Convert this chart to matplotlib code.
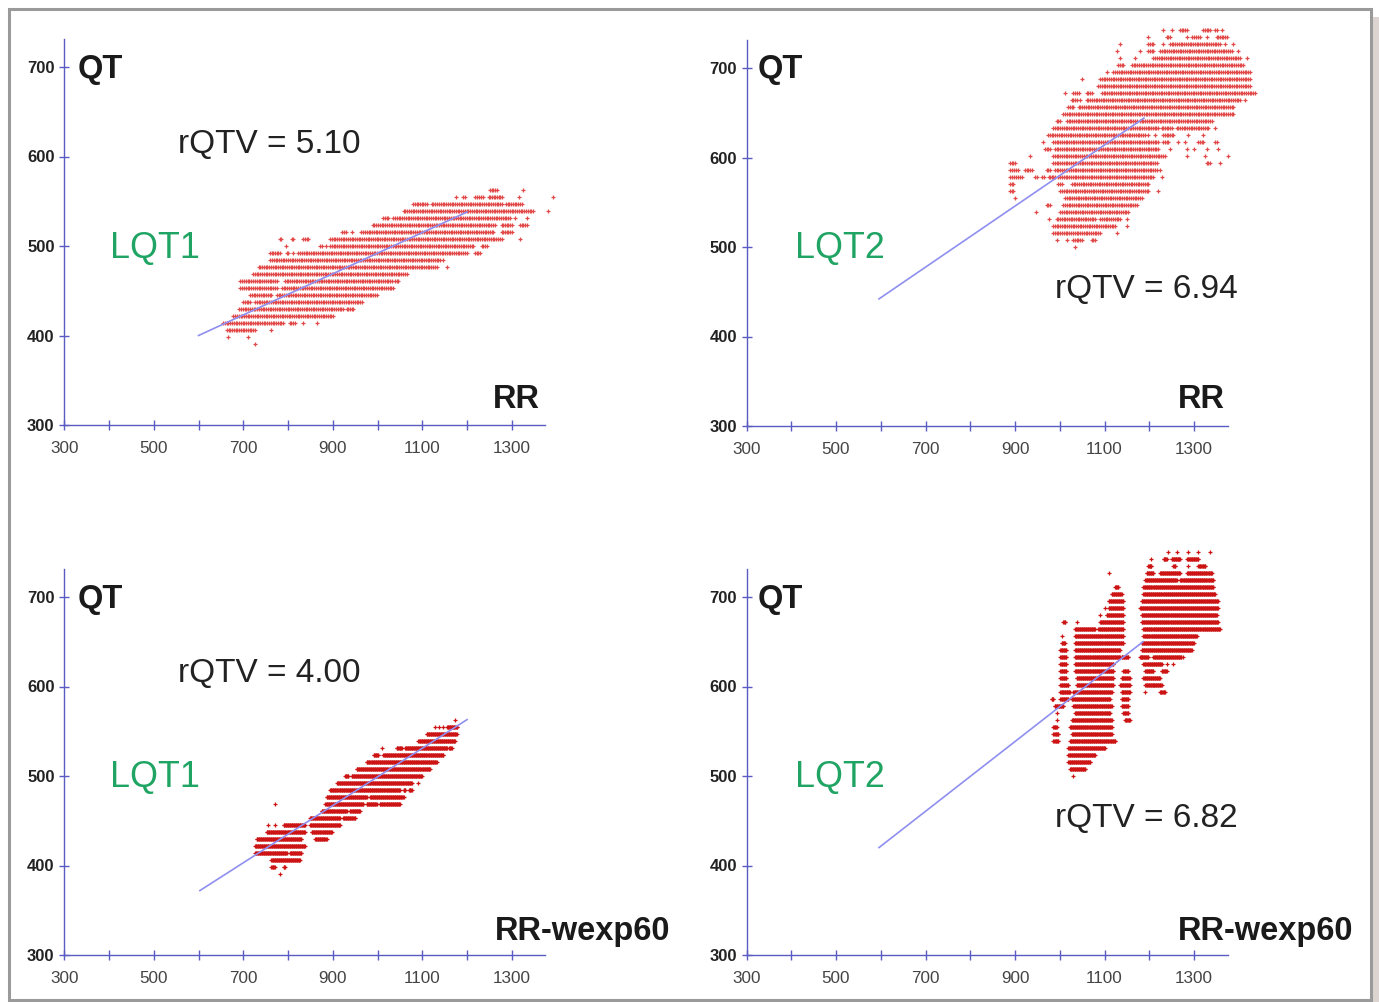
import numpy as np
import matplotlib
matplotlib.use("Agg")
import matplotlib.pyplot as plt
from matplotlib.patches import Rectangle

plt.rcParams['font.family'] = ['Liberation Sans', 'DejaVu Sans']

# ---------------- data ----------------
# QT rows (ms) and, per row, runs of RR values (ms) as (first, last) pairs
tl_qt = [562.5, 554.7, 546.9, 539.1, 531.2, 523.4, 515.6, 507.8, 500.0, 492.2, 484.4, 476.6,
         468.8, 460.9, 453.1, 445.3, 437.5, 429.7, 421.9, 414.1, 406.2, 398.4, 390.6]
tl_runs = [
    [(1251, 1266), (1326, 1326)],
    [(1175, 1175), (1190, 1195), (1218, 1236), (1248, 1278), (1315, 1315), (1393, 1393)],
    [(1080, 1110), (1121, 1278), (1287, 1322)],
    [(1058, 1348), (1382, 1382)],
    [(1013, 1024), (1035, 1296), (1307, 1307), (1333, 1333)],
    [(989, 1262), (1277, 1300), (1318, 1333)],
    [(920, 930), (944, 946), (964, 1259), (1277, 1300)],
    [(782, 785), (808, 812), (834, 845), (894, 1277), (1318, 1318)],
    [(795, 795), (871, 875), (884, 886), (894, 1214), (1233, 1244)],
    [(760, 782), (797, 800), (810, 812), (823, 1199), (1218, 1229)],
    [(760, 1140), (1147, 1147)],
    [(734, 1132), (1155, 1155)],
    [(722, 1065)],
    [(693, 775), (793, 1032), (1040, 1046)],
    [(693, 775), (786, 1035)],
    [(715, 763), (775, 998)],
    [(700, 715), (726, 965)],
    [(691, 923), (931, 946)],
    [(678, 901)],
    [(655, 789), (804, 815), (834, 834), (864, 864)],
    [(663, 726), (763, 763)],
    [(666, 666), (711, 711)],
    [(726, 726)],
]

tr_qt = [742.2, 734.4, 726.6, 718.8, 710.9, 703.1, 695.3, 687.5, 679.7, 671.9, 664.1, 656.2,
         648.4, 640.6, 632.8, 625.0, 617.2, 609.4, 601.6, 593.8, 585.9, 578.1, 570.3, 562.5,
         554.7, 546.9, 539.1, 531.2, 523.4, 515.6, 507.8, 500.0]
tr_runs = [
    [(1231, 1231), (1250, 1250), (1269, 1284), (1321, 1336), (1347, 1351), (1362, 1362)],
    [(1198, 1198), (1239, 1246), (1284, 1284), (1295, 1313), (1328, 1328), (1351, 1373)],
    [(1135, 1135), (1198, 1209), (1231, 1231), (1246, 1358), (1369, 1369), (1388, 1388)],
    [(1127, 1127), (1179, 1179), (1198, 1209), (1224, 1384), (1399, 1399)],
    [(1135, 1135), (1168, 1168), (1209, 1403), (1418, 1418)],
    [(1131, 1142), (1161, 1410)],
    [(1105, 1105), (1120, 1425)],
    [(1049, 1049), (1090, 1425)],
    [(1086, 1425)],
    [(1012, 1012), (1030, 1042), (1060, 1071), (1094, 1436)],
    [(1027, 1038), (1045, 1045), (1060, 1403), (1414, 1414)],
    [(1019, 1030), (1042, 1388)],
    [(1008, 1388)],
    [(993, 1001), (1016, 1172), (1179, 1340)],
    [(985, 1220), (1228, 1250), (1261, 1332), (1347, 1347)],
    [(974, 1190), (1198, 1198), (1213, 1213), (1231, 1254), (1287, 1287), (1321, 1321)],
    [(963, 963), (985, 1220), (1231, 1243), (1265, 1265), (1280, 1280), (1310, 1321), (1347, 1351)],
    [(967, 978), (989, 1220), (1246, 1246), (1284, 1284), (1299, 1299), (1328, 1328), (1354, 1354)],
    [(933, 933), (985, 1235), (1284, 1284), (1325, 1325), (1377, 1377)],
    [(889, 900), (985, 1217), (1328, 1336), (1358, 1358)],
    [(889, 907), (922, 937), (971, 978), (989, 1217), (1224, 1224)],
    [(889, 915), (945, 950), (960, 965), (975, 989), (997, 1209), (1228, 1228)],
    [(889, 896), (997, 1004), (1027, 1198)],
    [(889, 896), (1001, 1198), (1220, 1220)],
    [(900, 900), (1012, 1183)],
    [(971, 978), (1008, 1172)],
    [(948, 948), (1001, 1153)],
    [(975, 975), (993, 1079), (1090, 1135), (1150, 1150)],
    [(985, 1124), (1150, 1150)],
    [(985, 1090), (1127, 1127)],
    [(993, 993), (1016, 1016), (1030, 1049), (1071, 1079)],
    [(1034, 1034)],
]

bl_qt = [562.5, 554.7, 546.9, 539.1, 531.2, 523.4, 515.6, 507.8, 500.0, 492.2, 484.4, 476.6,
         468.8, 460.9, 453.1, 445.3, 437.5, 429.7, 421.9, 414.1, 406.2, 398.4, 390.6]
bl_runs = [
    [(1173, 1173)],
    [(1128, 1128), (1137, 1137), (1146, 1146), (1155, 1178)],
    [(1110, 1177)],
    [(1091, 1173)],
    [(1009, 1009), (1043, 1054), (1061, 1155), (1160, 1166)],
    [(991, 1002), (1013, 1147)],
    [(976, 1132)],
    [(953, 1117)],
    [(927, 935), (942, 1099)],
    [(909, 1076), (1091, 1091)],
    [(894, 1050), (1058, 1062), (1070, 1076)],
    [(886, 976), (983, 1058)],
    [(771, 771), (883, 968), (976, 998), (1005, 1050)],
    [(875, 931), (938, 961)],
    [(849, 916), (923, 950)],
    [(756, 756), (771, 771), (790, 838), (849, 916)],
    [(752, 838), (853, 898)],
    [(730, 830), (860, 886)],
    [(726, 838)],
    [(726, 797), (804, 830)],
    [(763, 827)],
    [(763, 770), (790, 793)],
    [(782, 782)],
]

br_qt = [750.0, 742.2, 734.4, 726.6, 718.8, 710.9, 703.1, 695.3, 687.5, 679.7, 671.9, 664.1,
         656.2, 648.4, 640.6, 632.8, 625.0, 617.2, 609.4, 601.6, 593.8, 585.9, 578.1, 570.3,
         562.5, 554.7, 546.9, 539.1, 531.2, 523.4, 515.6, 507.8, 500.0]
br_runs = [
    [(1243, 1243), (1261, 1261), (1287, 1287), (1310, 1310), (1336, 1336)],
    [(1205, 1205), (1232, 1239), (1250, 1269), (1284, 1310)],
    [(1198, 1205), (1254, 1258), (1287, 1287), (1310, 1325)],
    [(1109, 1109), (1194, 1209), (1224, 1269), (1284, 1340)],
    [(1191, 1261), (1269, 1343)],
    [(1124, 1131), (1187, 1343)],
    [(1116, 1138), (1187, 1347)],
    [(1109, 1142), (1183, 1354)],
    [(1101, 1101), (1109, 1142), (1179, 1354)],
    [(1090, 1090), (1105, 1142), (1183, 1351)],
    [(1008, 1012), (1038, 1038), (1090, 1142), (1183, 1354)],
    [(1034, 1079), (1086, 1142), (1187, 1358)],
    [(1004, 1004), (1034, 1142), (1187, 1306)],
    [(1004, 1012), (1034, 1142), (1183, 1299)],
    [(1001, 1015), (1034, 1135), (1183, 1295)],
    [(1001, 1015), (1034, 1135), (1138, 1153), (1179, 1198), (1209, 1272), (1276, 1276)],
    [(1001, 1015), (1034, 1120), (1187, 1228), (1239, 1239), (1254, 1254)],
    [(1001, 1015), (1034, 1120), (1142, 1153), (1191, 1209), (1228, 1239)],
    [(1001, 1015), (1038, 1120), (1138, 1157), (1187, 1224)],
    [(1001, 1019), (1038, 1120), (1135, 1157), (1191, 1228)],
    [(1001, 1023), (1030, 1116), (1138, 1157), (1191, 1191), (1224, 1235)],
    [(982, 986), (1001, 1019), (1027, 1112), (1138, 1153)],
    [(989, 1008), (1030, 1116), (1138, 1153)],
    [(993, 993), (1034, 1112), (1142, 1153)],
    [(993, 993), (1027, 1116), (1146, 1157)],
    [(986, 993), (1023, 1116)],
    [(986, 997), (1027, 1116)],
    [(986, 997), (1023, 1124)],
    [(1019, 1101)],
    [(1019, 1079)],
    [(1019, 1068)],
    [(1023, 1057)],
    [(1030, 1030)],
]

# regression lines (RR endpoints, QT endpoints)
tl_fit_rr, tl_fit_qt = [600, 1200], [400, 538]
tr_fit_rr, tr_fit_qt = [596, 1188], [442, 644]
bl_fit_rr, bl_fit_qt = [603, 1200], [372, 563]
br_fit_rr, br_fit_qt = [596, 1186], [420, 650]

x_ticks = [300, 400, 500, 600, 700, 800, 900, 1000, 1100, 1200, 1300]
x_ticklabels = ['300', '', '500', '', '700', '', '900', '', '1100', '', '1300']
y_ticks = [300, 400, 500, 600, 700]
y_ticklabels = ['300', '400', '500', '600', '700']

# ---------------- figure ----------------
W, H = 1379, 1002
fig = plt.figure(figsize=(W / 100, H / 100), dpi=100)
fig.patch.set_facecolor('white')

SX, SY = 0.4475, 0.895
XMIN, XMAX, YMIN, YMAX = 300, 1375, 300, 731
AX_COLOR = '#5b5bc4'
FIT_COLOR = '#8f8ff0'


def expand(qts, runs, step):
    xs, ys = [], []
    for q, rr in zip(qts, runs):
        for lo, hi in rr:
            n = int(round((hi - lo) / step)) + 1
            vals = np.linspace(lo, hi, n) if n > 1 else np.array([float(lo)])
            xs.extend(vals)
            ys.extend([q] * len(vals))
    return np.array(xs), np.array(ys)


def add_panel(x0, y0, qts, runs, step, color, fit_rr, fit_qt, ms):
    ax = fig.add_axes([x0 / W, 1 - y0 / H, (XMAX - XMIN) * SX / W, (YMAX - YMIN) * SY / H])
    ax.set_xlim(XMIN, XMAX)
    ax.set_ylim(YMIN, YMAX)
    ax.patch.set_alpha(0)
    for s in ['top', 'right']:
        ax.spines[s].set_visible(False)
    for s in ['left', 'bottom']:
        ax.spines[s].set_color(AX_COLOR)
        ax.spines[s].set_linewidth(1.0)
    ax.set_xticks(x_ticks)
    ax.set_xticklabels(x_ticklabels)
    ax.set_yticks(y_ticks)
    ax.set_yticklabels(y_ticklabels)
    ax.tick_params(axis='both', direction='inout', length=7, width=1, color=AX_COLOR)
    ax.tick_params(axis='x', pad=8, labelsize=12.3, labelcolor='#444444')
    ax.tick_params(axis='y', pad=3.5, labelsize=12, labelcolor='#222222')
    for t in ax.get_yticklabels():
        t.set_fontweight('bold')
    xs, ys = expand(qts, runs, step)
    ax.plot(xs, ys, ls='none', marker='+', ms=ms, mew=0.9, color=color, clip_on=False, zorder=2)
    ax.plot(fit_rr, fit_qt, color=FIT_COLOR, lw=1.2, zorder=3, clip_on=False)
    return ax


add_panel(64.3, 425, tl_qt, tl_runs, 4.0, '#e24a4a', tl_fit_rr, tl_fit_qt, 2.8)
add_panel(746.5, 426, tr_qt, tr_runs, 4.0, '#e24a4a', tr_fit_rr, tr_fit_qt, 2.8)
add_panel(64.3, 955, bl_qt, bl_runs, 1.5, '#cc1414', bl_fit_rr, bl_fit_qt, 3.0)
add_panel(746.5, 955, br_qt, br_runs, 1.5, '#cc1414', br_fit_rr, br_fit_qt, 3.0)


def ptext(x, y, s, **kw):
    fig.text(x / W, 1 - y / H, s, ha='left', va='baseline', **kw)


GREEN = '#1fa463'
BIG = dict(fontsize=23.5, fontweight='bold', color='#1a1a1a')
RQ = dict(fontsize=24, color='#222222')
LQ = dict(fontsize=25.8, color=GREEN)

# top-left
ptext(78, 78, 'QT', **BIG)
ptext(178, 153, 'rQTV = 5.10', **RQ)
ptext(110, 258, 'LQT1', **LQ)
ptext(493, 408, 'RR', **BIG)
# top-right
ptext(758, 78, 'QT', **BIG)
ptext(795, 258, 'LQT2', **LQ)
ptext(1055, 298, 'rQTV = 6.94', **RQ)
ptext(1178, 408, 'RR', **BIG)
# bottom-left
ptext(78, 608, 'QT', **BIG)
ptext(178, 682, 'rQTV = 4.00', **RQ)
ptext(110, 787, 'LQT1', **LQ)
ptext(495, 940, 'RR-wexp60', **BIG)
# bottom-right
ptext(758, 608, 'QT', **BIG)
ptext(795, 787, 'LQT2', **LQ)
ptext(1055, 827, 'rQTV = 6.82', **RQ)
ptext(1178, 940, 'RR-wexp60', **BIG)

# outer frame and right shadow
fig.add_artist(Rectangle((1373 / W, 0), 6 / W, 1 - 17 / H, transform=fig.transFigure,
                         facecolor='#dcd4d1', edgecolor='none', zorder=0))
fig.add_artist(Rectangle((8.5 / W, 1 - 1000 / H), (1371 - 8.5) / W, (1000 - 8.5) / H,
                         transform=fig.transFigure, fill=False, edgecolor='#9a9a9a',
                         linewidth=2.2, zorder=5))

fig.savefig('out.png', dpi=100, facecolor='white')
